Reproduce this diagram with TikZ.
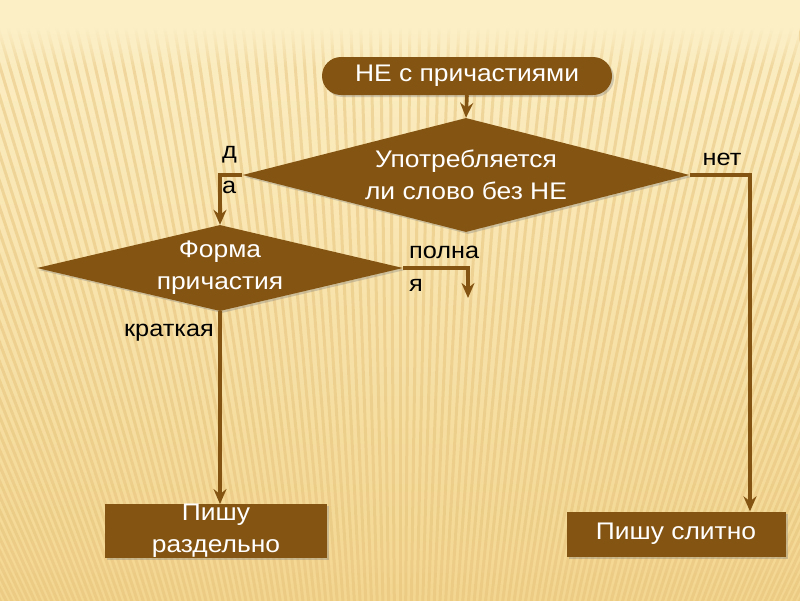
\documentclass[tikz,border=0pt]{standalone}
\usepackage{fontspec}
\setmainfont[FakeStretch=1.1]{Liberation Sans}
\usetikzlibrary{shapes.geometric,arrows.meta,shadows,fadings}
\definecolor{brn}{HTML}{845412}
\definecolor{bgtop}{HTML}{FCEFC6}
\definecolor{bgbot}{HTML}{F3D690}
\definecolor{stripecol}{HTML}{E6C27A}
\begin{document}
\begin{tikzpicture}[x=1pt,y=-1pt,
  box/.style={fill=brn, text=white, font=\fontsize{24}{32}\selectfont, align=center, inner sep=0pt,
    drop shadow={shadow xshift=2pt,shadow yshift=-2pt,opacity=0.35}},
  dia/.style={box, diamond},
  lbl/.style={text=black, font=\fontsize{23}{28}\selectfont, inner sep=1pt},
  conn/.style={draw=brn, line width=3.6pt},
  arr/.style={conn, -{Stealth[length=15pt,width=13pt,inset=5pt]}}]
% background
\useasboundingbox (0,0) rectangle (800,600);
\shade[top color=bgtop, bottom color=bgbot] (0,0) rectangle (800,600);
\begin{scope}
  \clip (0,25) rectangle (800,600);
  \foreach \i in {-300,-290,...,1100}
    \draw[stripecol, line width=3pt, opacity=0.5] (400,1400) -- (\i,0);
\end{scope}
\fill[bgtop] (0,0) rectangle (800,28);
\fill[bgtop, path fading=south] (0,27) rectangle (800,70);
% nodes
\node[box, rounded corners=19pt, minimum width=290pt, minimum height=38pt] (start) at (467,76) {НЕ с причастиями};
\node[dia, aspect=3.9, minimum width=447pt, minimum height=114pt] (d1) at (466,175) {Употребляется\\ли слово без НЕ};
\node[dia, aspect=4.25, minimum width=366pt, minimum height=86pt] (d2) at (220,268) {Форма\\причастия};
\node[box, minimum width=222pt, minimum height=52pt] (r1) at (216,531) {Пишу\\раздельно};
\node[box, minimum width=219pt, minimum height=45pt] (r2) at (676,534) {Пишу слитно};
% labels
\node[lbl, anchor=west] (lda1) at (221,155) {д};
\node[lbl, anchor=west] (lda2) at (221,187) {а};
\node[lbl] (lnet) at (722,159) {нет};
\node[lbl, anchor=west] (lp1) at (408,252) {полна};
\node[lbl, anchor=west] (lp2) at (408,285) {я};
\node[lbl, anchor=east] (lkr) at (215,333) {краткая};
% connectors
\draw[arr] (start.south) -- (d1.north);
\draw[arr] (d1.west) -| (d2.north);
\path (r2.north) ++(74,0) coordinate (netend);
\draw[arr] (d1.east) -| (netend);
\coordinate (pend) at (468,298);
\draw[arr] (d2.east) -| (pend);
\draw[arr] (d2.south) -- (d2.south |- r1.north);
\end{tikzpicture}
\end{document}
